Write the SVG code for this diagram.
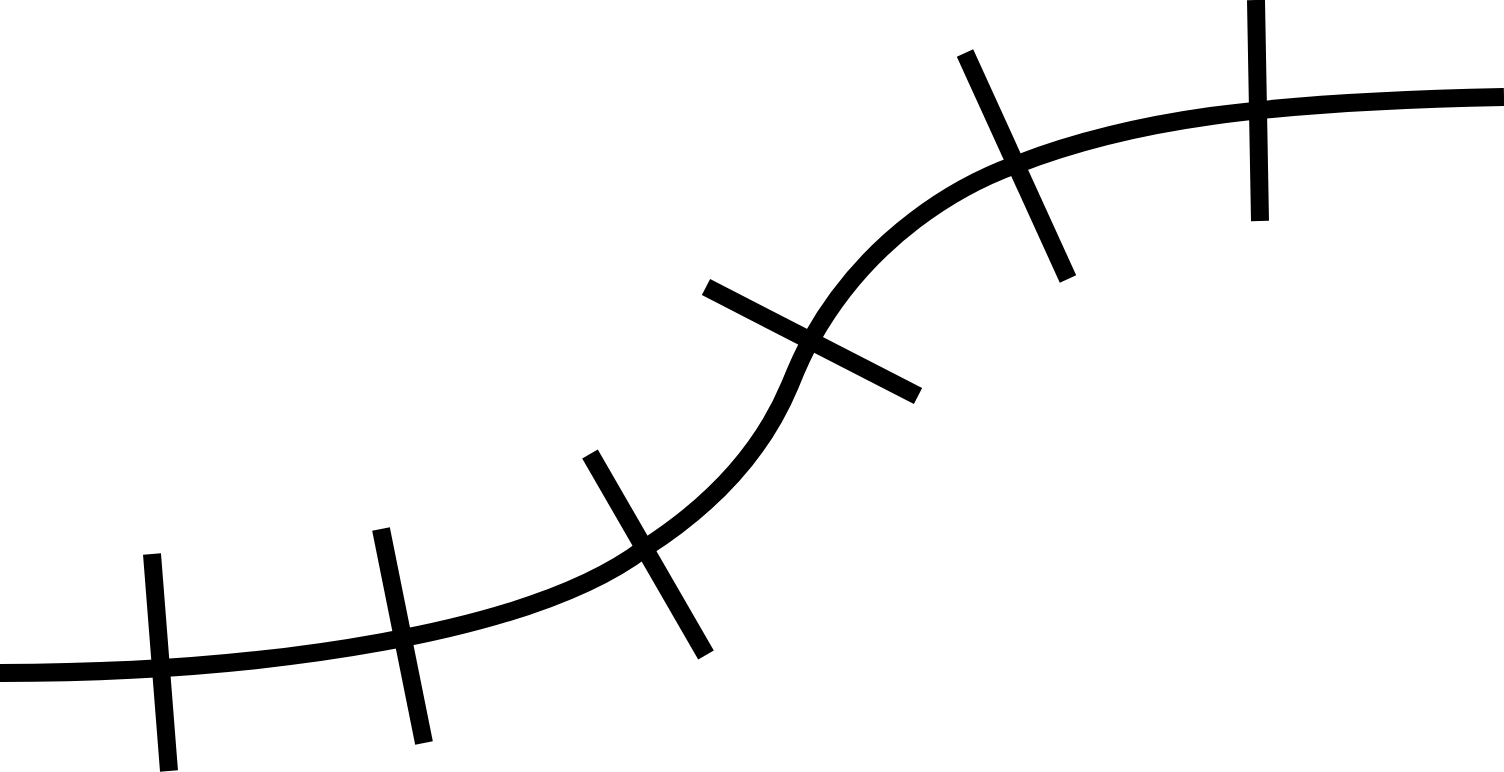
<svg xmlns="http://www.w3.org/2000/svg" width="1504" height="772" viewBox="0 0 1504 772">
<style>
.c{fill:none;stroke:#000;stroke-width:18}
.t{stroke:#000;stroke-width:18;stroke-linecap:butt}
</style>
<rect width="1504" height="772" fill="#fff"/>
<g id="connectors">
<path class="c" d="M0,673 C270,673 535,632 645,548 C720,500 765,445 790,385 C800,360 805,350 812,338 C870,235 960,185 1015,165 C1130,120 1260,102 1504,97"/>
</g>
<g id="tick1"><line class="t" x1="152" y1="554" x2="169" y2="771"/></g>
<g id="tick2"><line class="t" x1="381" y1="529" x2="424" y2="743"/></g>
<g id="tick3"><line class="t" x1="590" y1="454" x2="706" y2="655"/></g>
<g id="tick4"><line class="t" x1="706" y1="287" x2="918" y2="396"/></g>
<g id="tick5"><line class="t" x1="965" y1="53" x2="1068" y2="279"/></g>
<g id="tick6"><line class="t" x1="1256" y1="0" x2="1260" y2="221"/></g>
</svg>
